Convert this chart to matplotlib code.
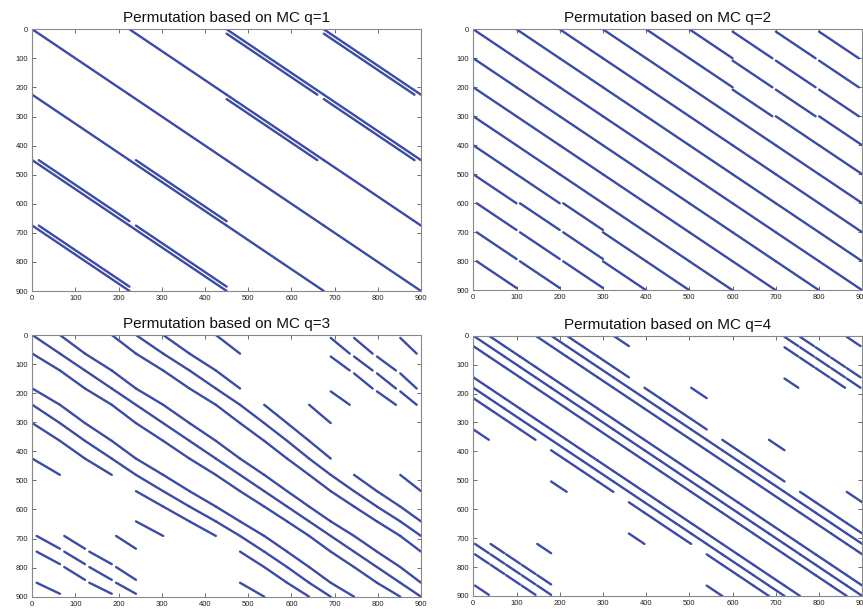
import matplotlib
matplotlib.use("Agg")
import matplotlib.pyplot as plt
from matplotlib.collections import LineCollection

# ---------------- data ----------------
TITLES = ["Permutation based on MC q=1", "Permutation based on MC q=2",
          "Permutation based on MC q=3", "Permutation based on MC q=4"]
TICKS = [0, 100, 200, 300, 400, 500, 600, 700, 800, 900]

# block edges (same for rows and columns)
Q1_EDGES = [0, 225, 450, 675, 900]
Q2_EDGES = [0, 100, 200, 300, 400, 500, 600, 700, 800, 900]
Q3_EDGES = [0, 64, 122, 184, 240, 303, 364, 425, 481, 537,
            590, 641, 691, 745, 798, 852, 900]
Q4_EDGES = [0, 36, 72, 108, 144, 180, 216, 252, 288, 324, 360, 396, 432, 468,
            504, 540, 576, 612, 648, 684, 720, 756, 792, 828, 864, 900]

# column blocks holding a diagonal run, one list per row block
Q1_BLOCKS = [[0, 1, 2, 3], [0, 1, 2, 3], [0, 1, 2, 3], [0, 1, 2, 3]]
Q1_SHIFTED = [[2, 3], [2, 3], [0, 1], [0, 1]]

Q2_BLOCKS = [[0, 1, 2, 3, 4, 5], [0, 1, 2, 3, 4, 5], [0, 1, 2, 3, 4, 5],
             [0, 1, 2, 3, 4, 5, 6, 7, 8], [0, 1, 2, 3, 4, 5, 6, 7, 8],
             [0, 1, 2, 3, 4, 5, 6, 7, 8],
             [3, 4, 5, 6, 7, 8], [3, 4, 5, 6, 7, 8], [3, 4, 5, 6, 7, 8]]
Q2_SHIFTED = [[6, 7, 8], [6, 7, 8], [6, 7, 8], [], [], [], [0, 1, 2], [0, 1, 2], [0, 1, 2]]

Q3_BLOCKS = [[0, 1, 3, 4, 5, 7], [0, 1, 2, 4, 5, 6], [1, 2, 3, 5, 6, 7], [0, 2, 3, 4, 6, 7],
             [0, 1, 3, 4, 5, 7, 8, 9, 11], [0, 1, 2, 4, 5, 6, 8, 9, 10],
             [1, 2, 3, 5, 6, 7, 9, 10, 11], [0, 2, 3, 4, 6, 7, 8, 10, 11],
             [4, 5, 7, 8, 9, 11, 12, 13, 15], [4, 5, 6, 8, 9, 10, 12, 13, 14],
             [5, 6, 7, 9, 10, 11, 13, 14, 15], [4, 6, 7, 8, 10, 11, 12, 14, 15],
             [8, 9, 11, 12, 13, 15], [8, 9, 10, 12, 13, 14], [9, 10, 11, 13, 14, 15],
             [8, 10, 11, 12, 14, 15]]
Q3_SHIFTED = [[12, 13, 15], [12, 13, 14], [13, 14, 15], [12, 14, 15],
              [], [], [], [], [], [], [], [],
              [0, 1, 3], [0, 1, 2], [1, 2, 3], [0, 2, 3]]

Q4_BLOCKS = [[0, 1, 4, 5, 6, 9], [0, 1, 2, 5, 6, 7], [1, 2, 3, 6, 7, 8], [2, 3, 4, 7, 8, 9],
             [0, 3, 4, 5, 8, 9],
             [0, 1, 4, 5, 6, 9, 10, 11, 14], [0, 1, 2, 5, 6, 7, 10, 11, 12],
             [1, 2, 3, 6, 7, 8, 11, 12, 13], [2, 3, 4, 7, 8, 9, 12, 13, 14],
             [0, 3, 4, 5, 8, 9, 10, 13, 14],
             [5, 6, 9, 10, 11, 14, 15, 16, 19], [5, 6, 7, 10, 11, 12, 15, 16, 17],
             [6, 7, 8, 11, 12, 13, 16, 17, 18], [7, 8, 9, 12, 13, 14, 17, 18, 19],
             [5, 8, 9, 10, 13, 14, 15, 18, 19],
             [10, 11, 14, 15, 16, 19, 20, 21, 24], [10, 11, 12, 15, 16, 17, 20, 21, 22],
             [11, 12, 13, 16, 17, 18, 21, 22, 23], [12, 13, 14, 17, 18, 19, 22, 23, 24],
             [10, 13, 14, 15, 18, 19, 20, 23, 24],
             [15, 16, 19, 20, 21, 24], [15, 16, 17, 20, 21, 22], [16, 17, 18, 21, 22, 23],
             [17, 18, 19, 22, 23, 24], [15, 18, 19, 20, 23, 24]]
Q4_SHIFTED = [[20, 21, 24], [20, 21, 22], [21, 22, 23], [22, 23, 24], [20, 23, 24],
              [], [], [], [], [], [], [], [], [], [], [], [], [], [], [],
              [0, 1, 4], [0, 1, 2], [1, 2, 3], [2, 3, 4], [0, 3, 4]]

# how far the wrapped runs sit toward the diagonal
SHIFT = [15, 8, 10, 4]

PANELS = [(Q1_EDGES, Q1_BLOCKS, Q1_SHIFTED), (Q2_EDGES, Q2_BLOCKS, Q2_SHIFTED),
          (Q3_EDGES, Q3_BLOCKS, Q3_SHIFTED), (Q4_EDGES, Q4_BLOCKS, Q4_SHIFTED)]

# ---------------- style ----------------
LINE_COLOR = "#3b4ba6"
plt.rcParams["font.family"] = ["Liberation Sans", "DejaVu Sans"]

W, H = 863, 609
fig = plt.figure(figsize=(W / 100, H / 100), dpi=100)
boxes = [(32.3, 29.3, 421.0, 291.0), (473.3, 29.3, 862.3, 290.3),
         (32.3, 335.0, 421.0, 596.7), (473.3, 335.7, 862.3, 596.0)]


def segments(edges, blocks, shifted, d):
    segs = []
    for r, cols in enumerate(blocks):
        y0, y1 = edges[r], edges[r + 1]
        for c in cols:
            x0, x1 = edges[c], edges[c + 1]
            segs.append([(x0, y0), (x1, y1)])
    for r, cols in enumerate(shifted):
        y0, y1 = edges[r], edges[r + 1]
        for c in cols:
            x0, x1 = edges[c], edges[c + 1]
            if c > r:
                segs.append([(x0, y0 + d), (x1 - d, y1)])
            else:
                segs.append([(x0 + d, y0), (x1, y1 - d)])
    return segs


for i, (l, t, r, b) in enumerate(boxes):
    ax = fig.add_axes([l / W, 1 - b / H, (r - l) / W, (b - t) / H])
    edges, blocks, shifted = PANELS[i]
    lc = LineCollection(segments(edges, blocks, shifted, SHIFT[i]),
                        colors=LINE_COLOR, linewidths=1.7, capstyle="round")
    ax.add_collection(lc)
    ax.set_xlim(0, 900)
    ax.set_ylim(900, 0)
    ax.set_xticks(TICKS)
    ax.set_yticks(TICKS)
    ax.tick_params(direction="in", length=3, width=0.6, top=True, right=True,
                   labelsize=5.5, colors="#555555", labelcolor="#222222", pad=3)
    for s in ax.spines.values():
        s.set_color("#888888")
        s.set_linewidth(0.8)
    ax.set_title(TITLES[i], fontsize=11, pad=5, color="#111111")

fig.savefig("out.png", dpi=100)
